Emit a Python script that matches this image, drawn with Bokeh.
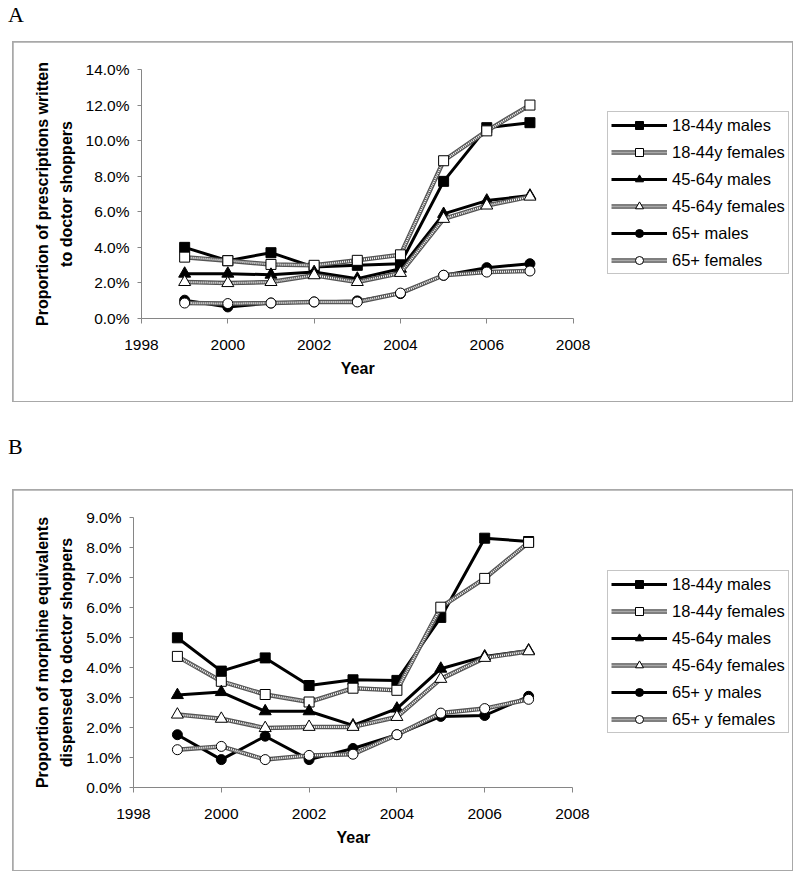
from bokeh.plotting import figure
from bokeh.models import (Legend, LegendItem, Div, Spacer, Title,
                          FixedTicker, NumeralTickFormatter, Range1d)
from bokeh.layouts import column, row
from bokeh.embed import file_html
from bokeh.resources import INLINE

# ---------------- data ----------------
years = [1999, 2000, 2001, 2002, 2003, 2004, 2005, 2006, 2007]

# Panel A: proportion of prescriptions written to doctor shoppers (%)
a_m_18_44 = [4.00, 3.25, 3.70, 2.89, 2.99, 3.08, 7.71, 10.73, 11.01]
a_f_18_44 = [3.45, 3.25, 3.04, 2.99, 3.27, 3.58, 8.87, 10.55, 12.00]
a_m_45_64 = [2.52, 2.52, 2.46, 2.61, 2.24, 2.80, 5.88, 6.63, 6.91]
a_f_45_64 = [2.05, 1.99, 2.05, 2.43, 2.05, 2.56, 5.60, 6.35, 6.85]
a_m_65 = [1.03, 0.65, 0.87, 0.93, 0.99, 1.40, 2.43, 2.86, 3.08]
a_f_65 = [0.87, 0.84, 0.87, 0.93, 0.93, 1.43, 2.43, 2.61, 2.67]
a_labels = ["18-44y males", "18-44y females", "45-64y males",
            "45-64y females", "65+ males", "65+ females"]

# Panel B: proportion of morphine equivalents dispensed to doctor shoppers (%)
b_m_18_44 = [4.99, 3.88, 4.32, 3.40, 3.59, 3.57, 5.67, 8.31, 8.20]
b_f_18_44 = [4.37, 3.54, 3.10, 2.85, 3.31, 3.24, 6.01, 6.97, 8.17]
b_m_45_64 = [3.08, 3.18, 2.54, 2.54, 2.07, 2.63, 3.96, 4.37, 4.57]
b_f_45_64 = [2.43, 2.29, 1.98, 2.02, 2.02, 2.35, 3.62, 4.32, 4.54]
b_m_65 = [1.76, 0.93, 1.71, 0.93, 1.30, 1.76, 2.37, 2.40, 3.04]
b_f_65 = [1.26, 1.37, 0.93, 1.07, 1.11, 1.76, 2.48, 2.63, 2.94]
b_labels = ["18-44y males", "18-44y females", "45-64y males",
            "45-64y females", "65+ y males", "65+ y females"]

x_ticks = [1998, 2000, 2002, 2004, 2006, 2008]
a_y_ticks = [0.00, 0.02, 0.04, 0.06, 0.08, 0.10, 0.12, 0.14]
b_y_ticks = [0.00, 0.01, 0.02, 0.03, 0.04, 0.05, 0.06, 0.07, 0.08, 0.09]

a_ylabel = "Proportion of prescriptions written\nto doctor shoppers"
b_ylabel = "Proportion of morphine equivalents\ndispensed to doctor shoppers"
x_label = "Year"

FONT = "Liberation Sans"
SERIF = "Liberation Serif"
GREY = "#868686"

markers = ["square", "square", "triangle", "triangle", "circle", "circle"]
sizes = [10, 10, 12, 12, 10, 10]
filled = [True, False, True, False, True, False]


def make_panel(series, labels, y_ticks, ylabel, width, height,
               borders, axis_px, legend_loc):
    left, right, top, bottom = borders
    # the frame also holds the legend; the x axis is bounded to 1998-2008
    frame_w = width - left - right
    x_end = x_ticks[0] + frame_w * (x_ticks[-1] - x_ticks[0]) / axis_px
    p = figure(width=width, height=height, output_backend="svg",
               toolbar_location=None,
               x_range=Range1d(x_ticks[0], x_end),
               y_range=Range1d(y_ticks[0], y_ticks[-1]),
               min_border_left=left, min_border_right=right,
               min_border_top=top, min_border_bottom=bottom,
               styles={"outline": "2px solid #a8a8a8",
                       "outline-offset": "-1px"})
    p.outline_line_color = None
    p.xgrid.grid_line_color = None
    p.ygrid.grid_line_color = None
    p.background_fill_color = "white"
    p.border_fill_color = "white"

    p.xaxis.ticker = FixedTicker(ticks=x_ticks)
    p.xaxis.bounds = (x_ticks[0], x_ticks[-1])
    p.yaxis.ticker = FixedTicker(ticks=y_ticks)
    p.yaxis.formatter = NumeralTickFormatter(format="0.0%")
    for ax in (p.xaxis[0], p.yaxis[0]):
        ax.axis_line_color = GREY
        ax.major_tick_line_color = GREY
        ax.minor_tick_line_color = None
        ax.major_tick_in = 0
        ax.major_label_text_font = FONT
        ax.major_label_text_font_size = "15.5px"
        ax.major_label_text_color = "black"
        ax.axis_label_text_font = FONT
        ax.axis_label_text_font_size = "16px"
        ax.axis_label_text_font_style = "bold"
        ax.axis_label_text_color = "black"
    p.xaxis.major_tick_out = 5
    p.yaxis.major_tick_out = 4
    p.xaxis.major_label_standoff = 16
    p.yaxis.major_label_standoff = 8
    p.yaxis.axis_label = ylabel
    p.yaxis.axis_label_standoff = 8
    p.yaxis.axis_label_text_line_height = 1.4

    # x axis title, centred under the 1998-2008 axis (not under the legend)
    p.add_layout(Title(text=x_label, align="left",
                       offset=axis_px / 2 - 16.5, standoff=11,
                       text_font=FONT, text_font_size="16px",
                       text_font_style="bold", text_color="black"), "below")

    items = []
    for vals, lab, mk, sz, fl in zip(series, labels, markers, sizes, filled):
        ys = [v / 100.0 for v in vals]
        rs = []
        if fl:
            rs.append(p.line(years, ys, line_color="black", line_width=3))
        else:
            rs.append(p.line(years, ys, line_color="#555555", line_width=4.5))
            rs.append(p.line(years, ys, line_color="white", line_width=2,
                             line_dash="1 1"))
        rs.append(p.scatter(years, ys, marker=mk, size=sz,
                            fill_color="black" if fl else "white",
                            line_color="black", line_width=1))
        items.append(LegendItem(label=lab, renderers=rs))

    legend = Legend(items=items, location=legend_loc, margin=0, padding=3,
                    spacing=7, glyph_width=56, glyph_height=20,
                    label_height=20, label_standoff=5,
                    label_text_font=FONT, label_text_font_size="16.5px",
                    label_text_color="black",
                    border_line_color="#8c8c8c", border_line_width=1,
                    background_fill_color="white", background_fill_alpha=1)
    p.add_layout(legend)
    return p


def letter_div(letter, height, pad_top):
    html = ('<div style="padding:%dpx 0 0 8px;font-family:\'%s\';'
            'font-size:22px;line-height:22px;color:black">%s</div>'
            % (pad_top, SERIF, letter))
    return Div(text=html, width=800, height=height, margin=0)


pA = make_panel([a_m_18_44, a_f_18_44, a_m_45_64, a_f_45_64, a_m_65, a_f_65],
                a_labels, a_y_ticks, a_ylabel, 779, 359,
                (128, 2, 27, 83), 431.6, (466, 44))
pB = make_panel([b_m_18_44, b_f_18_44, b_m_45_64, b_f_45_64, b_m_65, b_f_65],
                b_labels, b_y_ticks, b_ylabel, 779, 380,
                (120, 2, 27, 83), 439.0, (474, 54))

layout = column(
    letter_div("A", 42, 4),
    row(Spacer(width=13, height=359), pA, spacing=0),
    letter_div("B", 89, 35),
    row(Spacer(width=13, height=380), pB, spacing=0),
    spacing=0,
)
open("out.html", "w").write(file_html(layout, INLINE))
